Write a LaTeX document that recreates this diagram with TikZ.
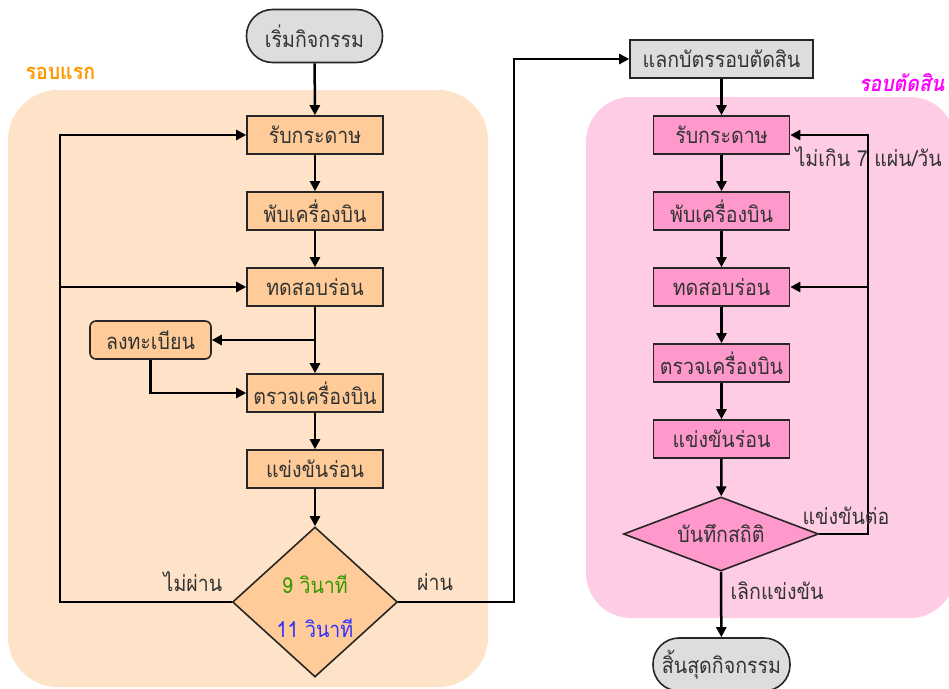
\documentclass[tikz,border=0pt]{standalone}
\usepackage{fontspec}
\setmainfont[Script=Thai, FakeStretch=0.89]{Loma}
\usetikzlibrary{shapes.geometric,arrows.meta}
\definecolor{orgbg}{HTML}{FEE3C8}
\definecolor{orgbox}{HTML}{FFCC99}
\definecolor{pinkbg}{HTML}{FFCCE5}
\definecolor{pinkbox}{HTML}{FF99CC}
\definecolor{graybox}{HTML}{DDDDDD}
\definecolor{orglabel}{HTML}{FF9900}
\definecolor{maglabel}{HTML}{FF00FF}
\definecolor{grn}{HTML}{339900}
\definecolor{blu}{HTML}{3333FF}
\tikzset{
  txt/.style={font=\fontsize{22}{25}\selectfont, text=black!80},
  box/.style={txt, draw=black!85, line width=1.6pt, minimum width=136pt, minimum height=38pt, inner sep=0pt},
  obox/.style={box, fill=orgbox},
  pbox/.style={box, fill=pinkbox},
  gbox/.style={box, fill=graybox},
  pill/.style={txt, draw=black!85, line width=1.6pt, fill=graybox, minimum width=136pt, minimum height=53pt, rounded corners=26pt, inner sep=0pt},
  dia/.style={txt, diamond, draw=black!85, line width=1.6pt, inner sep=0pt},
  arr/.style={draw=black, line width=2.5pt, -{Triangle[length=10pt,width=10pt]}},
  lbl/.style={txt},
}
\begin{document}
\begin{tikzpicture}[x=1pt,y=-1pt]
\useasboundingbox (0,0) rectangle (949,688);
% backgrounds
\fill[orgbg, rounded corners=50pt] (8,90) rectangle (488,687);
\fill[pinkbg, rounded corners=45pt] (586,97) rectangle (955,618);
\node[anchor=west, font=\bfseries\fontsize{22}{25}\selectfont, text=orglabel] (lab1) at (22,73) {รอบแรก};
\node[anchor=east, font=\bfseries\itshape\fontsize{22}{25}\selectfont, text=maglabel] (lab2) at (948,83) {รอบตัดสิน};
% left column
\node[pill] (start) at (314.5,36) {เริ่มกิจกรรม};
\node[obox] (b1) at (315,135) {รับกระดาษ};
\node[obox] (b2) at (315,211) {พับเครื่องบิน};
\node[obox] (b3) at (315,287) {ทดสอบร่อน};
\node[obox, minimum width=121pt, rounded corners=6pt] (reg) at (150.5,340) {ลงทะเบียน};
\node[obox] (b4) at (315,393) {ตรวจเครื่องบิน};
\node[obox] (b5) at (315,469) {แข่งขันร่อน};
\node[dia, fill=orgbox, minimum width=165pt, minimum height=150pt] (d1) at (315,602) {};
\node[txt, text=grn] (t9) at (315,584) {9 วินาที};
\node[txt, text=blu] (t11) at (315,628) {11 วินาที};
% right column
\node[gbox, minimum width=183pt] (x1) at (721.5,59) {แลกบัตรรอบตัดสิน};
\node[pbox] (p1) at (721.5,135) {รับกระดาษ};
\node[pbox] (p2) at (721.5,211) {พับเครื่องบิน};
\node[pbox] (p3) at (721.5,287) {ทดสอบร่อน};
\node[pbox] (p4) at (721.5,363) {ตรวจเครื่องบิน};
\node[pbox] (p5) at (721.5,439) {แข่งขันร่อน};
\node[dia, fill=pinkbox, aspect=2.63, minimum width=195pt, minimum height=74pt] (d2) at (721,534) {};
\node[txt] (t2) at (721,534) {บันทึกสถิติ};
\node[pill, minimum width=137pt] (end) at (721.5,664.5) {สิ้นสุดกิจกรรม};
% coordinates
\coordinate (L1) at (60,602);
\coordinate (L2) at (60,287);
\coordinate (R1) at (315,340);
\coordinate (P1) at (514,602);
\coordinate (Q1) at (868,534);
\coordinate (Q2) at (868,287);
% connectors
\draw[arr] (start) -- (b1);
\draw[arr] (b1) -- (b2);
\draw[arr] (b2) -- (b3);
\draw[arr] (b3) -- (b4);
\draw[arr] (R1) -- (reg.east);
\draw[arr] (reg.south) |- (b4.west);
\draw[arr] (b4) -- (b5);
\draw[arr] (b5) -- (d1);
\draw[arr] (d1.west) -- (L1) |- (b1.west);
\draw[arr] (L2) -- (b3.west);
\draw[arr] (d1.east) -- (P1) |- (x1.west);
\draw[arr] (x1) -- (p1);
\draw[arr] (p1) -- (p2);
\draw[arr] (p2) -- (p3);
\draw[arr] (p3) -- (p4);
\draw[arr] (p4) -- (p5);
\draw[arr] (p5) -- (d2);
\draw[arr] (d2.east) -- (Q1) |- (p1.east);
\draw[arr] (Q2) -- (p3.east);
\draw[arr] (d2.south) -- (end);
% labels
\node[lbl] (no) at (193,582) {ไม่ผ่าน};
\node[lbl] (yes) at (435,582) {ผ่าน};
\node[lbl, anchor=west] (lim) at (792,157) {ไม่เกิน 7 แผ่น/วัน};
\node[lbl, anchor=west] (cont) at (799,516) {แข่งขันต่อ};
\node[lbl, anchor=west] (quit) at (727,591) {เลิกแข่งขัน};
\end{tikzpicture}
\end{document}
